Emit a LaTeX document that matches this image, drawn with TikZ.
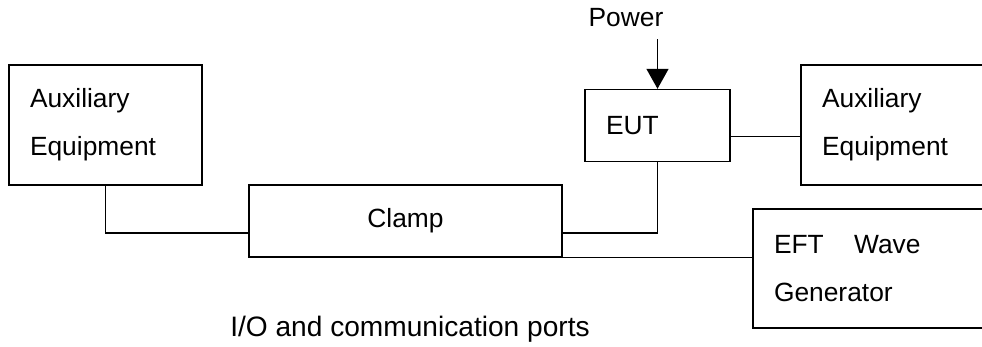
\documentclass[tikz,border=0pt]{standalone}
\usepackage{fontspec}
\setmainfont{Liberation Sans}
\usetikzlibrary{arrows.meta, positioning}

\begin{document}
\begin{tikzpicture} [x = 0.02cm, y = -0.02cm,
		box/.style = {draw, line width = 0.8pt, inner xsep = 0.42cm, inner ysep = 0pt, align = left, font = \fontsize{15}{27.3}\selectfont},
		wire/.style = {line width = 0.8pt}]
		\useasboundingbox (0,0) rectangle (982,346);
		\clip (0,0) rectangle (982,346);
		\node [box, minimum width = 3.86cm, minimum height = 2.4cm, text width = 3.02cm] (auxL) at (105.5,125) {Auxiliary\\Equipment};
		\node [box, minimum width = 6.26cm, minimum height = 1.44cm, text width = 5.42cm, align = center] (clamp) at (405.5,221) {Clamp};
		\node [box, minimum width = 2.9cm, minimum height = 1.44cm, text width = 2.06cm] (eut) at (657.5,125.5) {EUT};
		\node [box, minimum width = 3.86cm, minimum height = 2.4cm, text width = 3.02cm] (auxR) at (897.5,125) {Auxiliary\\Equipment};
		\node [box, minimum width = 4.8cm, minimum height = 2.38cm, text width = 3.96cm] (eft) at (873,268.5) {EFT\hspace{1.15em}Wave\\Generator};
		\node [font = \fontsize{15}{18}\selectfont] (power) at (626,18) {Power};
		\node [font = \fontsize{16}{19}\selectfont] (ports) at (410,329) {I/O and communication ports};
		\draw [wire, -{Triangle[length=0.4cm, width=0.44cm]}] ([yshift=-0.12cm]power.south -| eut.north) -- (eut.north);
		\draw [wire] (auxL.south) |- ([yshift=-0.24cm]clamp.west);
		\draw [wire] (eut.south) |- ([yshift=-0.24cm]clamp.east);
		\draw [wire] (clamp.south east) -- (clamp.south east -| eft.west);
		\draw [wire] ([yshift=-0.22cm]eut.east) -- ([yshift=-0.22cm]eut.east -| auxR.west);
	\end{tikzpicture}
\end{document}
